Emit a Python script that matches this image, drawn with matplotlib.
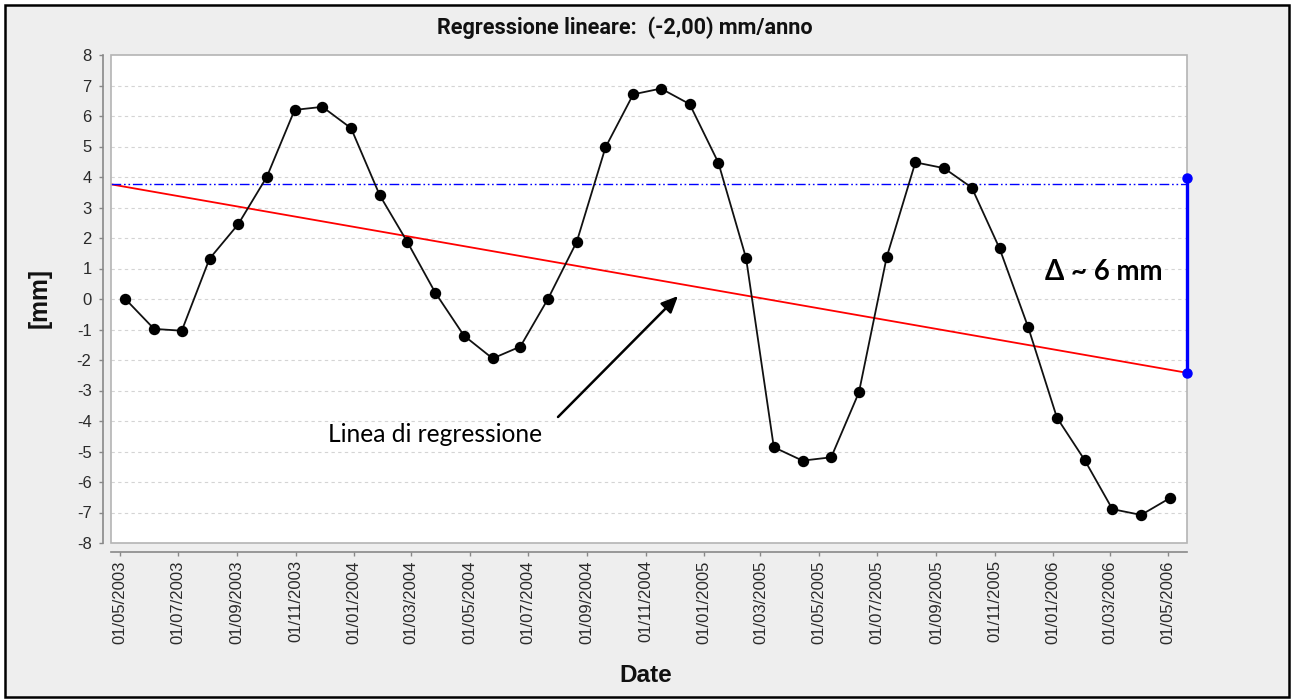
import matplotlib
matplotlib.use("Agg")
import matplotlib.pyplot as plt
import matplotlib.dates as mdates
from matplotlib.patches import Rectangle
from matplotlib import font_manager
from datetime import datetime

# ---------------- data ----------------
dates = ["2003-05-07", "2003-06-06", "2003-07-05", "2003-08-03", "2003-09-02",
         "2003-10-02", "2003-10-31", "2003-11-29", "2003-12-29", "2004-01-28",
         "2004-02-26", "2004-03-26", "2004-04-25", "2004-05-25", "2004-06-23",
         "2004-07-22", "2004-08-21", "2004-09-20", "2004-10-19", "2004-11-17",
         "2004-12-17", "2005-01-16", "2005-02-14", "2005-03-15", "2005-04-14",
         "2005-05-14", "2005-06-12", "2005-07-11", "2005-08-10", "2005-09-09",
         "2005-10-08", "2005-11-06", "2005-12-06", "2006-01-05", "2006-02-03",
         "2006-03-04", "2006-04-03", "2006-05-03"]
values = [0.0, -0.98, -1.04, 1.32, 2.45, 4.01, 6.2, 6.3, 5.6, 3.4,
          1.86, 0.21, -1.2, -1.95, -1.56, 0.01, 1.88, 4.97, 6.71, 6.9,
          6.39, 4.47, 1.34, -4.86, -5.3, -5.19, -3.06, 1.37, 4.48, 4.29,
          3.65, 1.66, -0.93, -3.89, -5.28, -6.89, -7.08, -6.53]

x_range = ["2003-04-22", "2006-05-21"]
regression_y = [3.76, -2.42]      # regression line at the two ends
reference_level = 3.76            # blue dash-dot level
delta_top = 3.96
delta_bottom = -2.42
y_ticks = list(range(-8, 9))

title = "Regressione lineare:  (-2,00) mm/anno"
x_label = "Date"
y_label = "[mm]"
note_regr = "Linea di regressione"
note_delta = "\u0394 ~ 6 mm"

# pick a condensed-looking family for the title if available
available = {f.name for f in font_manager.fontManager.ttflist}
title_family = "Liberation Sans Narrow" if "Liberation Sans Narrow" in available else "Roboto"

# ---------------- figure ----------------
W, H = 1291, 700
fig = plt.figure(figsize=(W / 100, H / 100), dpi=100, facecolor="white")
fig.patches.append(Rectangle((5 / W, 3 / H), 1284 / W, 692 / H, transform=fig.transFigure,
                             facecolor="#eeeeee", edgecolor="black", lw=1.8, zorder=-10))

L, R, T, B = 111, 1187, 55, 543
ax = fig.add_axes([L / W, 1 - B / H, (R - L) / W, (B - T) / H])
ax.set_facecolor("white")

xd = [datetime.strptime(d, "%Y-%m-%d") for d in dates]
xr = [datetime.strptime(d, "%Y-%m-%d") for d in x_range]

ax.set_xlim(xr[0], xr[1])
ax.set_ylim(-8, 8)

# grid
for yv in y_ticks:
    if -8 < yv < 8:
        ax.axhline(yv, color="#d4d4d4", lw=0.8, ls=(0, (3, 3)), zorder=0)

# regression line
ax.plot(xr, regression_y, color="#ff0000", lw=1.3, zorder=3)
# reference dash-dot line
ax.plot(xr, [reference_level, reference_level], color="#0000ff", lw=1.0,
        ls=(0, (7, 2, 1.2, 2, 1.2, 2)), zorder=3)
# delta marker
ax.plot([xr[1], xr[1]], [delta_top, delta_bottom], color="#0000ff", lw=2.4,
        marker="o", ms=6.5, clip_on=False, zorder=9)

# series
ax.plot(xd, values, color="#111111", lw=1.3, marker="o", ms=7.2, mfc="black",
        mec="black", zorder=5)

# frame around plot area
for s in ["top", "right"]:
    ax.spines[s].set_visible(False)
ax.add_patch(Rectangle((0, 0), 1, 1, transform=ax.transAxes, fill=False,
                       edgecolor="#b4b4b4", lw=1.2, zorder=7, clip_on=False))
ax.spines["left"].set_position(("outward", 6))
ax.spines["bottom"].set_position(("outward", 6.5))
for s in ["left", "bottom"]:
    ax.spines[s].set_color("#888888")
    ax.spines[s].set_linewidth(1.2)

ax.set_yticks(y_ticks)
ax.set_yticklabels([str(v) for v in y_ticks])
ax.xaxis.set_major_locator(mdates.MonthLocator(bymonth=[1, 3, 5, 7, 9, 11], bymonthday=1))
ax.xaxis.set_major_formatter(mdates.DateFormatter("%d/%m/%Y"))
ax.tick_params(axis="both", colors="#888888", length=3, width=1, labelcolor="#2a2a2a",
               labelsize=12)
ax.tick_params(axis="x", labelrotation=90, pad=3)
ax.tick_params(axis="y", pad=5)
for lab in ax.get_xticklabels() + ax.get_yticklabels():
    lab.set_family("Liberation Sans")

# texts
r = fig.canvas.get_renderer()


def fit(t, target_w, horizontal=True):
    bb = t.get_window_extent(r)
    w = bb.width if horizontal else bb.height
    t.set_fontsize(t.get_fontsize() * target_w / w)


t_title = fig.text(625 / W, 1 - 28 / H, title, ha="center", va="center",
                   family=[title_family, "DejaVu Sans"], weight="bold", fontsize=13,
                   color="#111111")
fit(t_title, 376)
t_x = fig.text(646 / W, 1 - 676 / H, x_label, ha="center", va="center",
               family="Liberation Sans", weight="bold", fontsize=15, color="#111111")
fit(t_x, 53)
t_y = fig.text(40 / W, 1 - 298 / H, y_label, ha="center", va="center", rotation=90,
               family="Liberation Sans", weight="bold", fontsize=15, color="#111111")
fit(t_y, 60, horizontal=False)

t_n = ax.text((435 - L) / (R - L), (B - 435) / (B - T), note_regr, transform=ax.transAxes,
              ha="center", va="center", family="Lato", fontsize=15, color="black", zorder=8)
fit(t_n, 215)
ax.annotate("", xy=((678 - L) / (R - L), (B - 296) / (B - T)), xycoords="axes fraction",
            xytext=((558 - L) / (R - L), (B - 417) / (B - T)), textcoords="axes fraction",
            arrowprops=dict(arrowstyle="-|>,head_length=1.0,head_width=0.45", color="black",
                            lw=1.8, shrinkA=0, shrinkB=0), zorder=8)
t_d = ax.text((1104 - L) / (R - L), (B - 272) / (B - T), note_delta, transform=ax.transAxes,
              ha="center", va="center", family=["Lato", "DejaVu Sans"], weight="bold",
              fontsize=16, color="black", zorder=8)
fit(t_d, 118)

fig.savefig("out.png", dpi=100, facecolor=fig.get_facecolor())
